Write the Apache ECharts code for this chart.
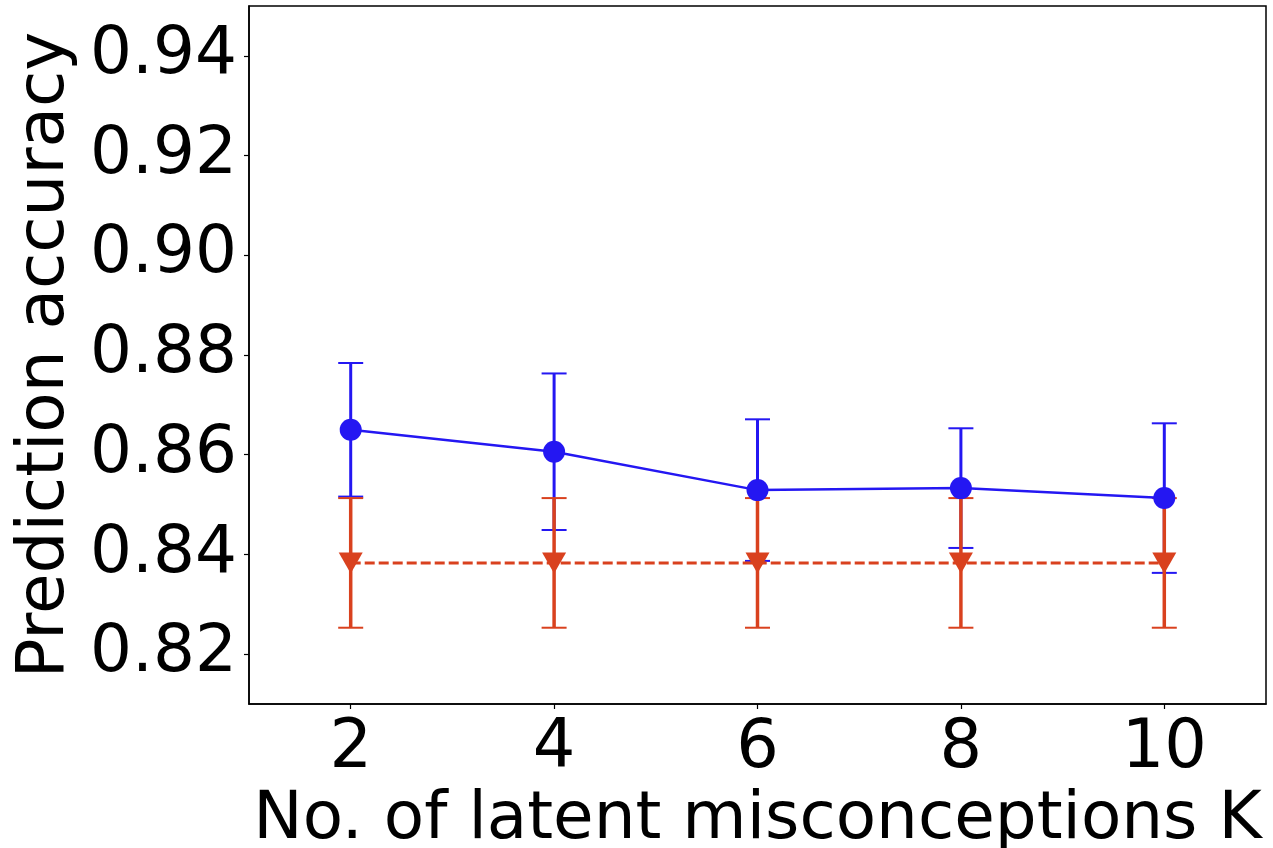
<!DOCTYPE html>
<html>
<head>
<meta charset="utf-8">
<script src="https://cdn.jsdelivr.net/npm/echarts@6/dist/echarts.min.js"></script>
<style>
html,body{margin:0;padding:0;background:#fff;}
#c{width:1273px;height:848px;}
</style>
</head>
<body>
<div id="c"></div>
<script>
var categories = ['2', '4', '6', '8', '10'];
var blueMean = [0.8650, 0.8606, 0.8529, 0.8533, 0.8513];
var blueErr  = [0.0134, 0.0157, 0.0142, 0.0120, 0.0150];
var redMean  = [0.8383, 0.8383, 0.8383, 0.8383, 0.8383];
var redErr   = [0.0130, 0.0130, 0.0130, 0.0130, 0.0130];
var yTickLabels = ['0.82', '0.84', '0.86', '0.88', '0.90', '0.92', '0.94'];

var BLUE = '#2417f2';
var RED = '#d9411e';
var FONT = 'DejaVu Sans';

function errData(mean, err) {
  return mean.map(function (m, i) { return [i, m - err[i], m + err[i]]; });
}

function errSeries(mean, err, color, lw) {
  return {
    type: 'custom',
    data: errData(mean, err),
    silent: true,
    renderItem: function (params, api) {
      var i = api.value(0);
      var lo = api.coord([i, api.value(1)]);
      var hi = api.coord([i, api.value(2)]);
      var hw = 12.5;
      return {
        type: 'group',
        children: [
          { type: 'line', shape: { x1: lo[0], y1: lo[1], x2: hi[0], y2: hi[1] }, style: { stroke: color, lineWidth: lw } },
          { type: 'line', shape: { x1: lo[0] - hw, y1: lo[1], x2: lo[0] + hw, y2: lo[1] }, style: { stroke: color, lineWidth: 2 } },
          { type: 'line', shape: { x1: hi[0] - hw, y1: hi[1], x2: hi[0] + hw, y2: hi[1] }, style: { stroke: color, lineWidth: 2 } }
        ]
      };
    }
  };
}

var chart = echarts.init(document.getElementById('c'), null, { renderer: 'canvas' });
chart.setOption({
  animation: false,
  backgroundColor: '#fff',
  grid: { left: 249, top: 6, right: 7, bottom: 144, containLabel: false, outerBoundsMode: 'none', show: true, borderColor: '#000', borderWidth: 1.5, backgroundColor: 'transparent' },
  xAxis: {
    type: 'category',
    data: categories,
    boundaryGap: true,
    name: 'No. of latent misconceptions K',
    nameLocation: 'middle',
    nameGap: 81,
    nameTextStyle: { fontFamily: FONT, fontSize: 66, color: '#000' },
    axisLine: { show: true, lineStyle: { color: '#000', width: 1.5 } },
    axisTick: { show: true, alignWithLabel: true, length: 5, lineStyle: { color: '#000', width: 1.2 } },
    axisLabel: { fontFamily: FONT, fontSize: 67, color: '#000', margin: 12 },
    splitLine: { show: false }
  },
  yAxis: {
    type: 'value',
    min: 0.81,
    max: 0.95,
    splitNumber: 7,
    name: 'Prediction accuracy',
    nameLocation: 'middle',
    nameGap: 166,
    nameTextStyle: { fontFamily: FONT, fontSize: 66, color: '#000' },
    axisLine: { show: true, lineStyle: { color: '#000', width: 1.5 } },
    axisTick: { show: true, length: 5, lineStyle: { color: '#000', width: 1.2 } },
    axisLabel: {
      fontFamily: FONT, fontSize: 66, color: '#000', margin: 12,
      showMinLabel: false, showMaxLabel: false,
      formatter: function (v) {
        var s = v.toFixed(2);
        return yTickLabels.indexOf(s) >= 0 ? s : '';
      }
    },
    splitLine: { show: false }
  },
  series: [
    errSeries(blueMean, blueErr, BLUE, 3),
    errSeries(redMean, redErr, RED, 3.5),
    {
      type: 'line',
      data: redMean,
      symbol: 'triangle',
      symbolRotate: 180,
      symbolSize: [24, 21],
      lineStyle: { color: RED, width: 3, type: [10, 4] },
      itemStyle: { color: RED },
      z: 3
    },
    {
      type: 'line',
      data: blueMean,
      symbol: 'circle',
      symbolSize: 22,
      lineStyle: { color: BLUE, width: 2.5 },
      itemStyle: { color: BLUE },
      z: 4
    }
  ]
});
</script>
</body>
</html>
